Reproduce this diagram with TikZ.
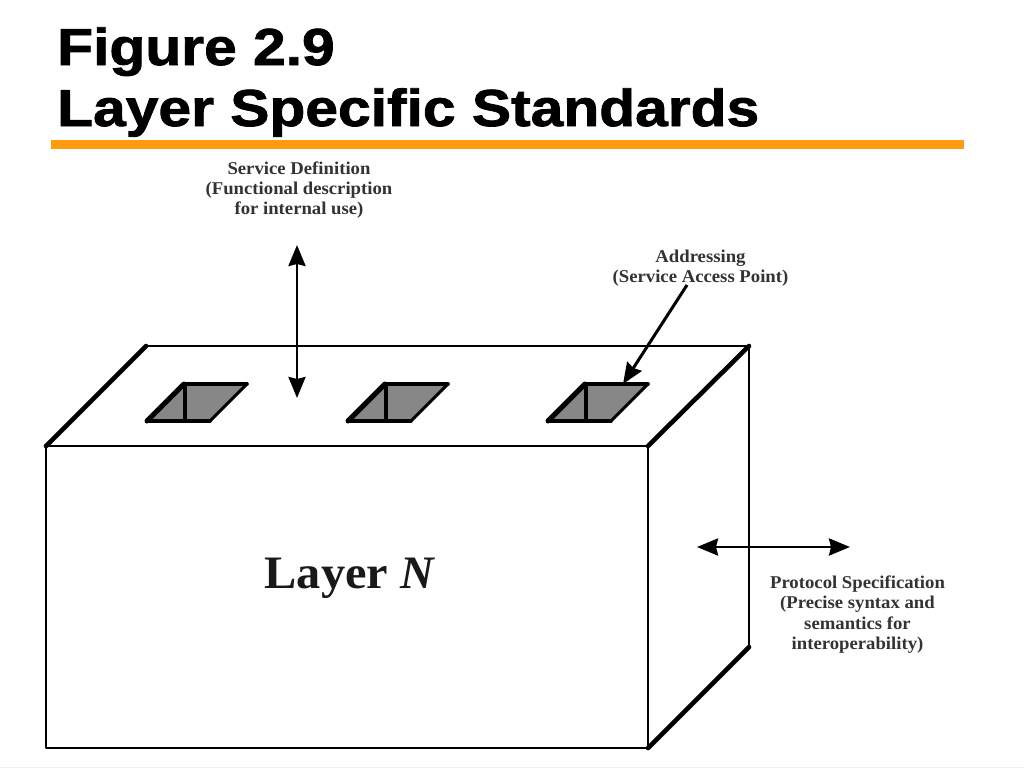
\documentclass[tikz,border=0pt]{standalone}
\usepackage{fontspec}
\setmainfont[BoldFeatures={FakeStretch=1.04}]{Liberation Serif}
\newfontfamily\titlefont[BoldFeatures={FakeStretch=1.13,FakeBold=1.6}]{Liberation Sans}
\usetikzlibrary{arrows.meta}
\definecolor{barorange}{RGB}{255,155,15}
\tikzset{
  edgethin/.style={line width=2.9pt,line cap=round,line join=round},
  edgethick/.style={line width=4.6pt,line cap=round},
  slotfill/.style={fill=black!47},
  dbl/.style={line width=2.8pt,{Stealth[length=21pt,width=17pt,inset=2pt]}-{Stealth[length=21pt,width=17pt,inset=2pt]}},
  sgl/.style={line width=3pt,-{Stealth[length=21pt,width=17pt,inset=2pt]}},
  lbl/.style={font=\fontsize{18}{20.3}\selectfont\bfseries,align=center,text=black!80,inner sep=0pt},
  ttl/.style={font=\titlefont\fontsize{52}{60}\selectfont\bfseries,anchor=base west,inner sep=0pt}
}
\begin{document}
\begin{tikzpicture}[x=1pt,y=-1pt]
\useasboundingbox (0,0) rectangle (1024,768);
\fill[white] (0,0) rectangle (1024,768);
\fill[black!6] (0,767) rectangle (1024,768);
\node[ttl] (t1) at (57,65) {Figure 2.9};
\node[ttl] (t2) at (57,126) {Layer Specific Standards};
\fill[barorange] (51,140) rectangle (964,149);
% box
\coordinate (fa) at (46,446); \coordinate (fb) at (648,446);
\coordinate (fc) at (648,748); \coordinate (fd) at (46,748);
\coordinate (ba) at (146,346); \coordinate (bb) at (749,346); \coordinate (bc) at (749,647);
\draw[edgethin] (fa) -- (fb) -- (fc) -- (fd) -- cycle;
\draw[edgethin] (ba) -- (bb) -- (bc);
\draw[edgethick] (fa) -- (ba);
\draw[edgethick] (fb) -- (bb);
\draw[edgethick] (fc) -- (bc);
% slots
\foreach \dx in {0,201,401}{
  \begin{scope}[xshift=\dx pt]
    \fill[slotfill] (147,421) -- (184,384) -- (247,384) -- (210,421) -- cycle;
    \draw[line width=3.2pt,line join=round] (185,421) -- (185,384);
    \draw[line width=3.6pt,line cap=round] (147,421) -- (210,421);
    \draw[line width=3.6pt,line cap=round] (184,384) -- (247,384);
    \draw[line width=3pt,line cap=round] (210,421) -- (247,384);
    \draw[line width=5pt,line cap=round] (147,421) -- (184,384);
  \end{scope}
}
% arrows
\coordinate (s1) at (297,245); \coordinate (s2) at (297,398);
\draw[dbl] (s1) -- (s2);
\coordinate (p1) at (697,547); \coordinate (p2) at (850,547);
\draw[dbl] (p1) -- (p2);
\node[lbl] (serv) at (299,190) {Service Definition\\(Functional description\\for internal use)};
\node[lbl] (addr) at (700.5,268) {Addressing\\(Service Access Point)};
\coordinate (af) at (687,285); \coordinate (at) at (623,384);
\draw[sgl] (af) -- (at);
\node[lbl] (prot) at (857.5,614.5) {Protocol Specification\\(Precise syntax and\\semantics for\\interoperability)};
\node[inner sep=0pt,text=black!90,font=\fontsize{46.5}{50}\selectfont\bfseries] (ln) at (350,578) {Layer \textit{N}};
\end{tikzpicture}
\end{document}
